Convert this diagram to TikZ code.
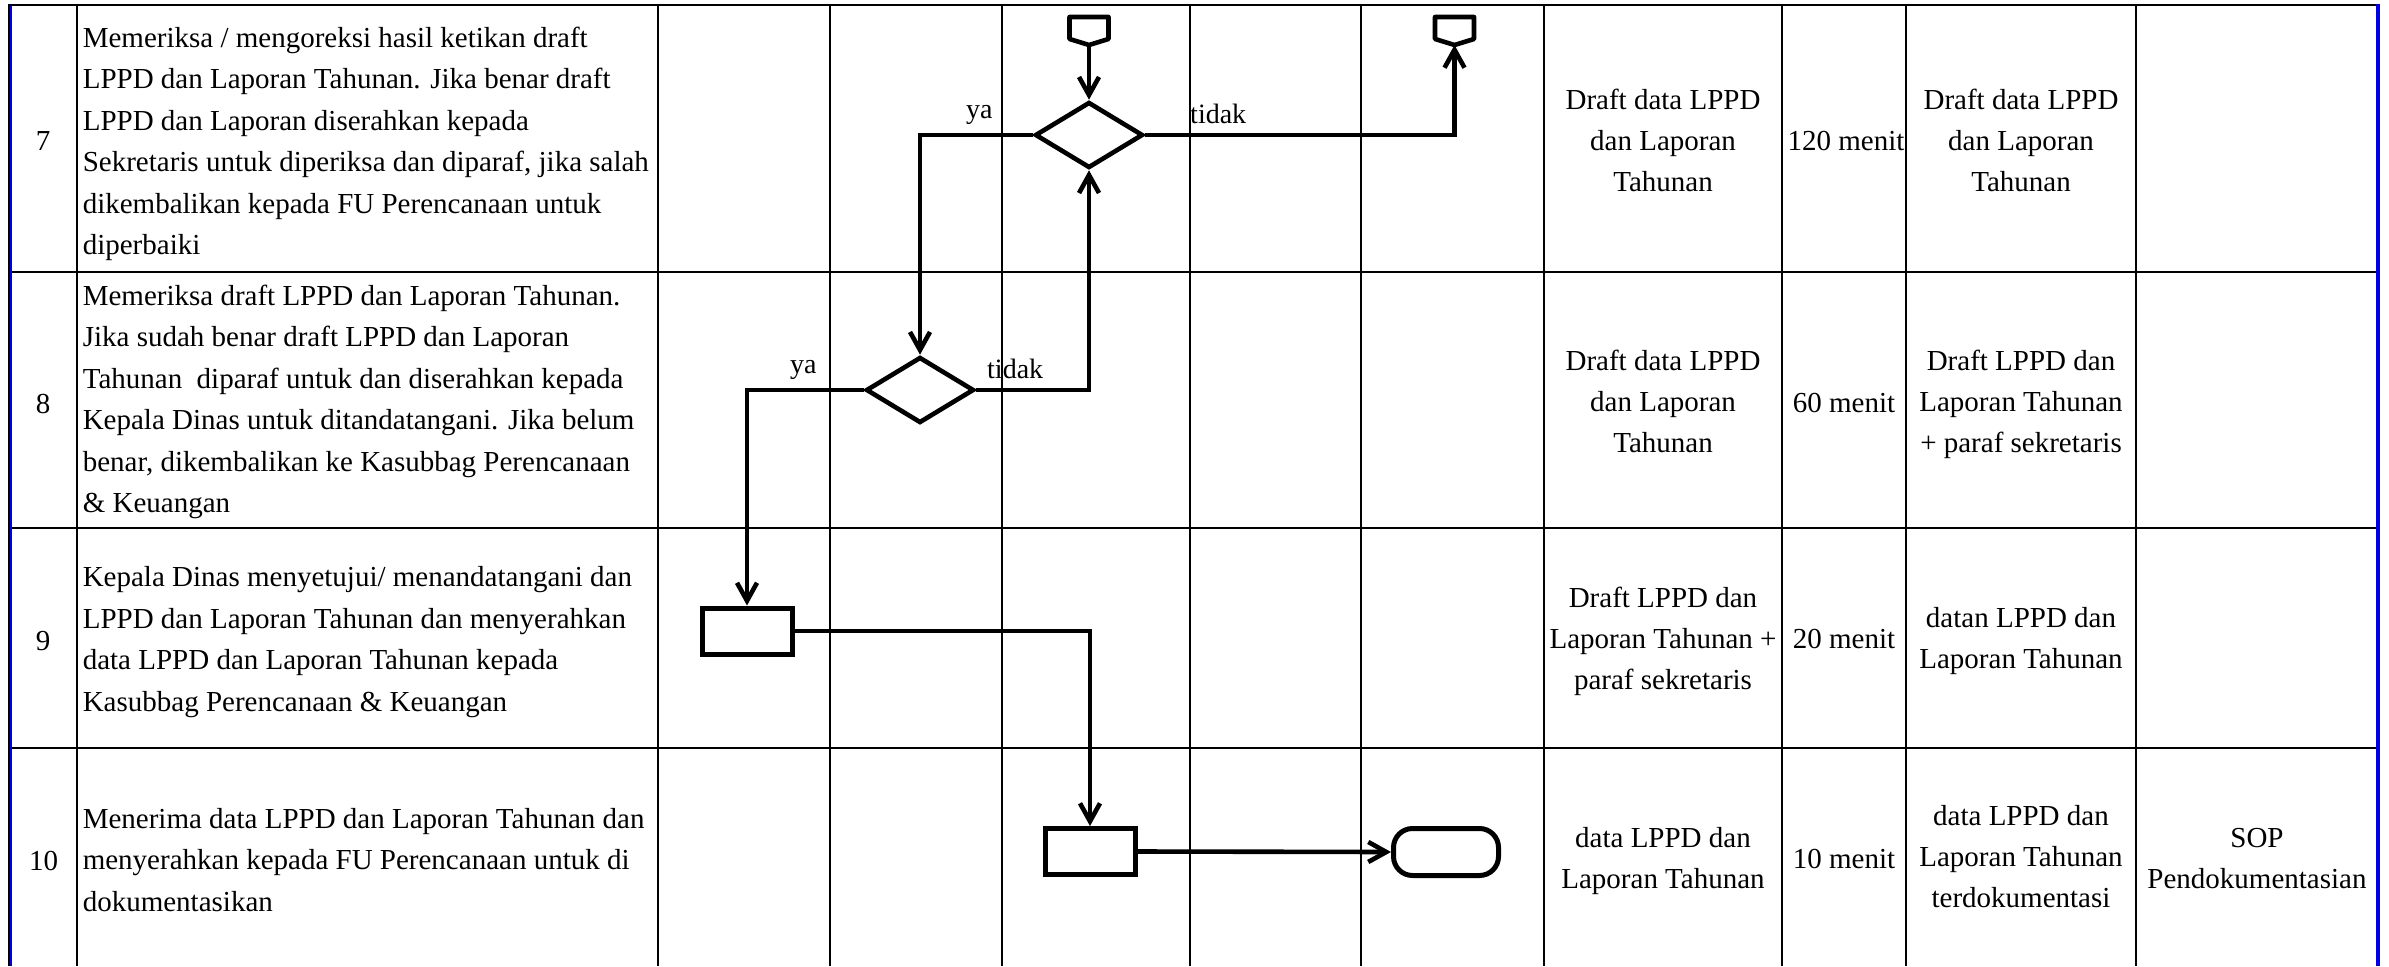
\documentclass[tikz,border=0pt]{standalone}
\usepackage{fontspec}
\setmainfont{Liberation Serif}
\usetikzlibrary{shapes.geometric,arrows.meta}
\newcommand{\fdesc}{\fontsize{29}{41.5}\selectfont}
\newcommand{\fcell}{\fontsize{29}{41}\selectfont}
\newcommand{\flab}{\fontsize{28}{34}\selectfont}
\definecolor{bordblue}{RGB}{0,0,230}
\begin{document}
\begin{tikzpicture}[x=1pt,y=-1pt,
  grid/.style={line width=1.8pt},
  rowline/.style={line width=2.4pt},
  flow/.style={line width=4.6pt, -{Straight Barb[length=18pt,width=20pt]}},
  dec/.style={diamond, draw, line width=4.6pt, minimum width=108pt, minimum height=66pt, inner sep=0pt},
  proc/.style={rectangle, draw, line width=5pt, minimum width=90pt, minimum height=46pt, inner sep=0pt},
  term/.style={rectangle, rounded corners=19pt, draw, line width=5pt, minimum width=105pt, minimum height=47pt, inner sep=0pt},
  conn/.style={line width=4.6pt, line join=round},
  desc/.style={align=left, font=\fdesc, inner sep=0pt, anchor=west},
  cell/.style={align=center, font=\fcell, inner sep=0pt},
  num/.style={font=\fcell, inner sep=0pt, anchor=base},
  lab/.style={font=\flab, inner sep=0pt, anchor=base west}
]
\useasboundingbox (0,0) rectangle (2389,966);
\fill[white] (0,0) rectangle (2389,966);

% table grid
\foreach \x in {77,658,830,1002,1190,1361,1544,1782,1906,2136} \draw[grid] (\x,5) -- (\x,966);
\foreach \y in {5,272,528,748} \draw[rowline] (8,\y) -- (2378,\y);
\draw[line width=2pt] (8.5,4) -- (8.5,966);
\draw[bordblue, line width=2pt] (10.5,6) -- (10.5,966);
\draw[bordblue, line width=4pt] (2378,4) -- (2378,966);

% row numbers
\node[num] (n7) at (43,150) {7};
\node[num] (n8) at (43,413) {8};
\node[num] (n9) at (43,650) {9};
\node[num] (n10) at (43.5,870) {10};

% descriptions
\node[desc] (t7) at (82.6,144) {Memeriksa / mengoreksi hasil ketikan draft\\LPPD dan Laporan Tahunan. Jika benar draft\\LPPD dan Laporan diserahkan kepada\\Sekretaris untuk diperiksa dan diparaf, jika salah\\dikembalikan kepada FU Perencanaan untuk\\diperbaiki};
\node[desc] (t8) at (82.6,402) {Memeriksa draft LPPD dan Laporan Tahunan.\\Jika sudah benar draft LPPD dan Laporan\\Tahunan~ diparaf untuk dan diserahkan kepada\\Kepala Dinas untuk ditandatangani. Jika belum\\benar, dikembalikan ke Kasubbag Perencanaan\\\& Keuangan};
\node[desc] (t9) at (82.6,642.3) {Kepala Dinas menyetujui/ menandatangani dan\\LPPD dan Laporan Tahunan dan menyerahkan\\data LPPD dan Laporan Tahunan kepada\\Kasubbag Perencanaan \& Keuangan};
\node[desc] (t10) at (82.6,859.8) {Menerima data LPPD dan Laporan Tahunan dan\\menyerahkan kepada FU Perencanaan untuk di\\dokumentasikan};

% right-hand cells
\node[cell] (r7a) at (1663,140) {Draft data LPPD\\dan Laporan\\Tahunan};
\node[num] (r7b) at (1846,150) {120 menit};
\node[cell] (r7c) at (2021,140) {Draft data LPPD\\dan Laporan\\Tahunan};
\node[cell] (r8a) at (1663,401) {Draft data LPPD\\dan Laporan\\Tahunan};
\node[num] (r8b) at (1844,412) {60 menit};
\node[cell] (r8c) at (2021,404) {Draft LPPD dan\\Laporan Tahunan\\+ paraf sekretaris};
\node[cell] (r9a) at (1663,641) {Draft LPPD dan\\Laporan Tahunan +\\paraf sekretaris};
\node[num] (r9b) at (1844,648) {20 menit};
\node[cell] (r9c) at (2021,641) {datan LPPD dan\\Laporan Tahunan};
\node[cell] (r10a) at (1663,861) {data LPPD dan\\Laporan Tahunan};
\node[num] (r10b) at (1844,868) {10 menit};
\node[cell] (r10c) at (2021,857) {data LPPD dan\\Laporan Tahunan\\terdokumentasi};
\node[cell] (r10d) at (2257,858.6) {SOP\\Pendokumentasian};

% flow shapes
\node[dec] (d1) at (1089,135) {};
\node[dec] (d2) at (920,390) {};
\node[proc] (p1) at (747,631) {};
\node[proc] (p2) at (1090,851.5) {};
\node[term] (t1) at (1446,852) {};
\coordinate (c1) at (1089,45);
\coordinate (c2) at (1454.5,45);
\draw[conn] (1069.5,17) -- (1108.5,17) -- (1108.5,39) -- (c1) -- (1069.5,39) -- cycle;
\draw[conn] (1435,17) -- (1474,17) -- (1474,39) -- (c2) -- (1435,39) -- cycle;

% connectors
\draw[flow] (c1) -- (d1.north);
\draw[flow] (d1.west) -| (d2.north);
\draw[flow] (d1.east) -| (c2);
\draw[flow] (d2.west) -| (p1.north);
\draw[flow] (d2.east) -| (d1.south);
\draw[flow] (p1.east) -| (p2.north);
\draw[flow] (p2.east) -- (t1.west);

% labels
\node[lab] (ya1) at (966,118) {ya};
\node[lab] (td1) at (1190,123) {tidak};
\node[lab] (ya2) at (790,373) {ya};
\node[lab] (td2) at (987,378) {tidak};
\end{tikzpicture}
\end{document}
